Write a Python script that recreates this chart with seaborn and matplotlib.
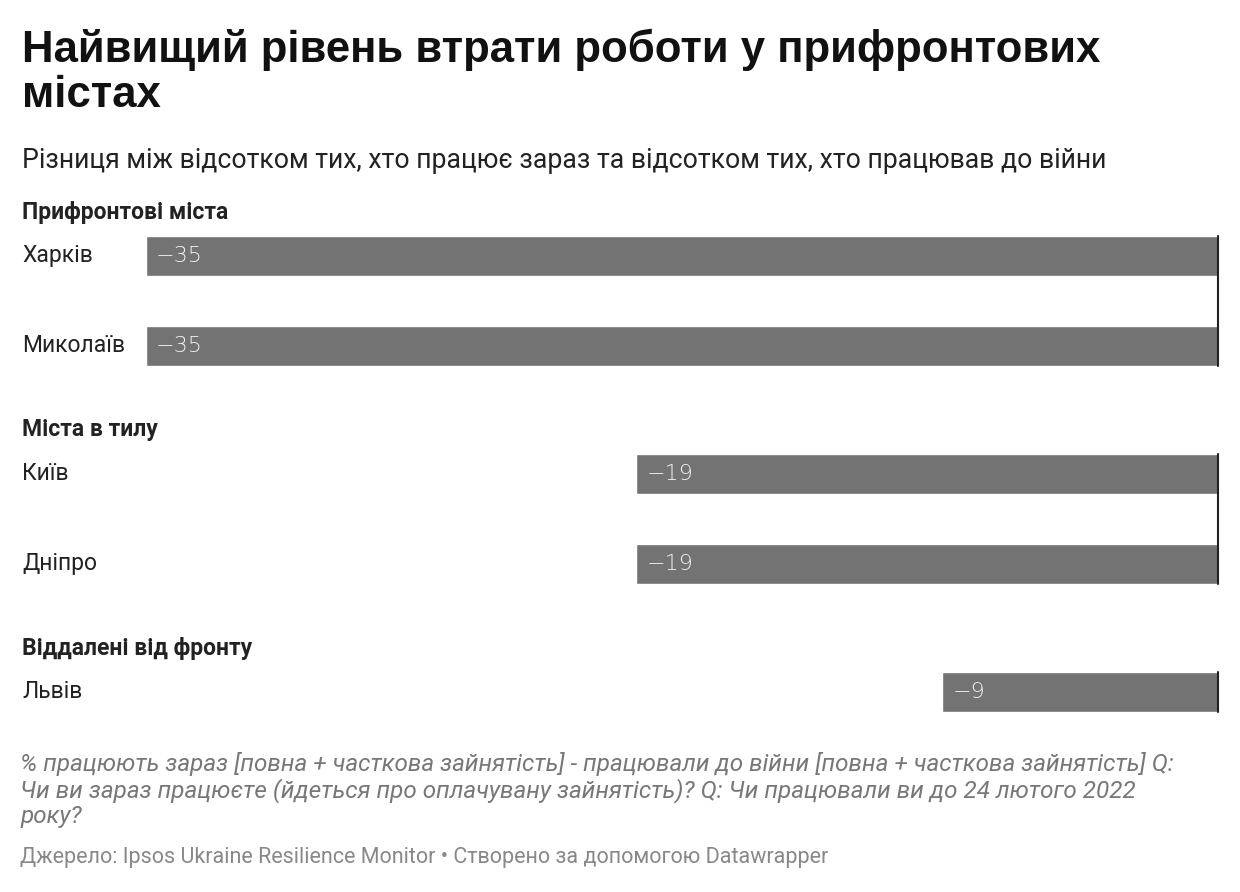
import matplotlib
matplotlib.use("Agg")
import matplotlib.pyplot as plt
import seaborn as sns
import pandas as pd

title = "Найвищий рівень втрати роботи у прифронтових\nмістах"
subtitle = "Різниця між відсотком тих, хто працює зараз та відсотком тих, хто працював до війни"
groups = ["Прифронтові міста", "Міста в тилу", "Віддалені від фронту"]
cities = ["Харків", "Миколаїв", "Київ", "Дніпро", "Львів"]
city_group = [0, 0, 1, 1, 2]
values = [-35, -35, -19, -19, -9]
note = ("% працюють зараз [повна + часткова зайнятість] - працювали до війни [повна + часткова зайнятість] Q:\n"
        "Чи ви зараз працюєте (йдеться про оплачувану зайнятість)? Q: Чи працювали ви до 24 лютого 2022\nроку?")
source = "Джерело: Ipsos Ukraine Resilience Monitor • Створено за допомогою Datawrapper"

# layout (pixel rows)
ypos = [255.5, 345.5, 473.5, 563.5, 691.5]
group_y = [212, 430, 648]

W, H = 1240, 892
sns.set_theme(style="white")
fig = plt.figure(figsize=(W/100, H/100), dpi=100)
fig.patch.set_facecolor("white")
x0, x1 = 146, 1218
yt, yb = 200, 730
ax = fig.add_axes([x0/W, 1-yb/H, (x1-x0)/W, (yb-yt)/H])
df = pd.DataFrame({"v": values, "y": ypos})
sns.barplot(data=df, x="v", y="y", orient="h", native_scale=True, color="#737373",
            saturation=1, width=40/90, ax=ax, errorbar=None)
ax.set_xlim(-35, 0)
ax.set_ylim(yb, yt)
ax.axis("off")
for v, y in zip(values, ypos):
    ax.text(v + 0.33, y, f"−{abs(v)}", color="#f2f2f2", va="center", ha="left",
            fontsize=16, family="DejaVu Sans", fontweight="light")
# zero line per group
for g in range(3):
    ys = [y for y, cg in zip(ypos, city_group) if cg == g]
    ax.plot([0, 0], [min(ys)-20, max(ys)+20], color="#222222", lw=1.5, clip_on=False)

fig.text(22/W, 1-72/H, title, fontsize=31.5, fontweight="bold", family="Liberation Sans",
         va="center", ha="left", color="#111111", linespacing=1.12)
fig.text(22/W, 1-161/H, subtitle, fontsize=19.2, family="Roboto", va="center", color="#222222")
for gname, gy in zip(groups, group_y):
    fig.text(22/W, 1-gy/H, gname, fontsize=16.5, fontweight="bold", family="Roboto",
             va="center", color="#222222")
for c, y in zip(cities, ypos):
    fig.text(22/W, 1-y/H, c, fontsize=16.5, family="Roboto", va="center", color="#222222")
fig.text(20/W, 1-790/H, note, fontsize=17.5, style="italic", family="Roboto",
         va="center", color="#777777", linespacing=1.1)
fig.text(20/W, 1-858/H, source, fontsize=15.5, family="Roboto", va="center", color="#888888")
fig.savefig("out.png", dpi=100, facecolor="white")
